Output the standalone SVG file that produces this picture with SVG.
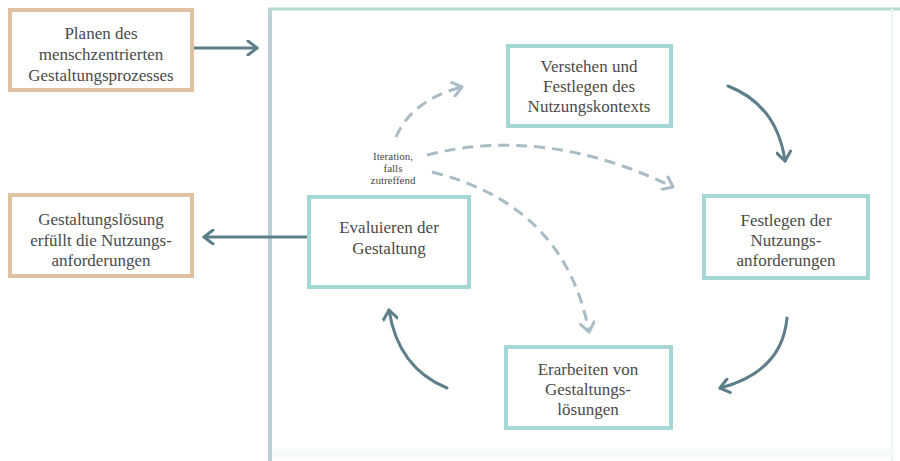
<svg xmlns="http://www.w3.org/2000/svg" width="900" height="461" viewBox="0 0 900 461">
<defs>
<style>
.t{font-family:'Times New Roman','Liberation Serif',Tinos,'DejaVu Serif','Noto Serif',Times,serif;font-size:17px;fill:#4a4a4a;text-anchor:middle}
.s{font-family:'Times New Roman','Liberation Serif',Tinos,'DejaVu Serif','Noto Serif',Times,serif;font-size:11px;fill:#4a4a4a;text-anchor:middle}
.orange{fill:#fff;stroke:#dfc2a2;stroke-width:4}
.teal{fill:#fff;stroke:#a5d7d6;stroke-width:4}
.solid{fill:none;stroke:#5e7f8a;stroke-width:3;stroke-linecap:round}
.dash{fill:none;stroke:#a9bcc5;stroke-width:3;stroke-dasharray:11 7}
</style>
<marker id="ah" viewBox="-12 -8 14 16" refX="0" refY="0" markerWidth="14" markerHeight="16" markerUnits="userSpaceOnUse" orient="auto">
<path d="M-9,-7 L0,0 L-9,7" fill="none" stroke="#5e7f8a" stroke-width="3" stroke-linecap="round" stroke-linejoin="round"/>
</marker>
<marker id="ahd" viewBox="-12 -8 14 16" refX="0" refY="0" markerWidth="14" markerHeight="16" markerUnits="userSpaceOnUse" orient="auto">
<path d="M-9,-7 L0,0 L-9,7" fill="none" stroke="#a9bcc5" stroke-width="3" stroke-linecap="round" stroke-linejoin="round"/>
</marker>
</defs>
<rect width="900" height="461" fill="#fff"/>
<g id="frame">
<line x1="270" y1="9" x2="270" y2="461" stroke="#bdd0d8" stroke-width="4"/>
<line x1="268" y1="9" x2="900" y2="9" stroke="#b8d9d4" stroke-width="3"/>
<line x1="892" y1="9" x2="892" y2="461" stroke="#eef5f5" stroke-width="2"/>
<line x1="272" y1="453" x2="892" y2="453" stroke="#f6fafb" stroke-width="8"/>
</g>
<g id="connectors">
<line class="solid" x1="194" y1="48" x2="257" y2="48" marker-end="url(#ah)"/>
<line class="solid" x1="307" y1="237" x2="204" y2="237" marker-end="url(#ah)"/>
<path class="solid" d="M728,86 Q777,105 785,161" marker-end="url(#ah)"/>
<path class="solid" d="M787,318 Q782,372 720,388" marker-end="url(#ah)"/>
<path class="solid" d="M447,388 Q398,368 389,310" marker-end="url(#ah)"/>
<path class="dash" d="M396,137 Q412,100 462,87" marker-end="url(#ahd)"/>
<path class="dash" d="M427,155 Q545,125 673,187" marker-end="url(#ahd)"/>
<path class="dash" d="M432,172 Q565,205 589,332" marker-end="url(#ahd)"/>
</g>
<g id="planen">
<rect class="orange" x="10" y="10" width="182" height="80"/>
<text class="t" x="101" y="39">Planen des</text>
<text class="t" x="101" y="60">menschzentrierten</text>
<text class="t" x="101" y="81">Gestaltungsprozesses</text>
</g>
<g id="loesung">
<rect class="orange" x="10" y="195" width="182" height="81"/>
<text class="t" x="101" y="225">Gestaltungslösung</text>
<text class="t" x="101" y="246">erfüllt die Nutzungs-</text>
<text class="t" x="101" y="266">anforderungen</text>
</g>
<g id="evaluieren">
<rect class="teal" x="309" y="197" width="160" height="90"/>
<text class="t" x="389" y="233">Evaluieren der</text>
<text class="t" x="389" y="254">Gestaltung</text>
</g>
<g id="verstehen">
<rect class="teal" x="508" y="46" width="163" height="80"/>
<text class="t" x="589" y="72">Verstehen und</text>
<text class="t" x="589" y="92">Festlegen des</text>
<text class="t" x="589" y="112">Nutzungskontexts</text>
</g>
<g id="festlegen">
<rect class="teal" x="704" y="196" width="164" height="82"/>
<text class="t" x="786" y="226">Festlegen der</text>
<text class="t" x="786" y="246">Nutzungs-</text>
<text class="t" x="786" y="266">anforderungen</text>
</g>
<g id="erarbeiten">
<rect class="teal" x="506" y="347" width="165" height="81"/>
<text class="t" x="588" y="375">Erarbeiten von</text>
<text class="t" x="588" y="395">Gestaltungs-</text>
<text class="t" x="588" y="415">lösungen</text>
</g>
<g id="label">
<text class="s" x="393" y="160">Iteration,</text>
<text class="s" x="393" y="172">falls</text>
<text class="s" x="393" y="184">zutreffend</text>
</g>
</svg>
